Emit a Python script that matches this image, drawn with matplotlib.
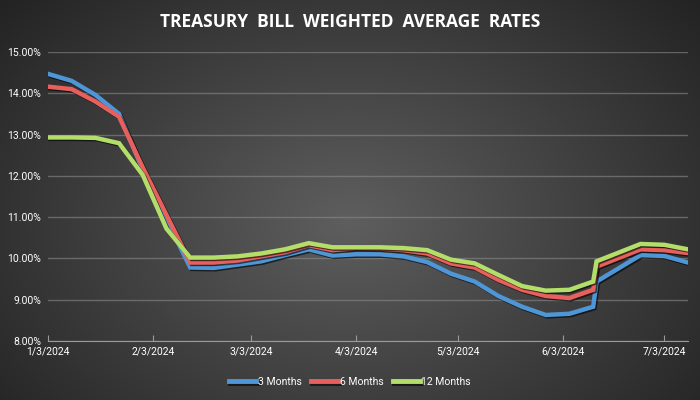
import numpy as np
import matplotlib
matplotlib.use("Agg")
import matplotlib.pyplot as plt
import matplotlib.dates as mdates
import matplotlib.patheffects as pe
from datetime import date, timedelta

# weekly auction dates (plus the extra point on 13 June)
start = date(2024, 1, 3)
week_idx = list(range(24)) + [None] + [25, 26, 27]
dates = []
for w in week_idx:
    if w is None:
        dates.append(date(2024, 6, 13))
    else:
        dates.append(start + timedelta(days=7 * w))

rate_3m = [14.47, 14.30, 13.96, 13.50, 12.15, 10.95, 9.78, 9.77, 9.85, 9.93,
           10.08, 10.22, 10.07, 10.10, 10.10, 10.05, 9.91, 9.63, 9.44, 9.09,
           8.83, 8.63, 8.66, 8.83, 9.44, 10.08, 10.06, 9.90]
rate_6m = [14.16, 14.10, 13.80, 13.43, 12.20, 11.05, 9.90, 9.90, 9.95, 10.05,
           10.15, 10.32, 10.20, 10.25, 10.24, 10.20, 10.12, 9.88, 9.78, 9.48,
           9.24, 9.09, 9.04, 9.24, 9.80, 10.22, 10.20, 10.13]
rate_12m = [12.93, 12.93, 12.92, 12.79, 12.02, 10.72, 10.02, 10.02, 10.05, 10.12,
            10.22, 10.37, 10.27, 10.27, 10.27, 10.25, 10.20, 9.97, 9.88, 9.60,
            9.33, 9.22, 9.24, 9.44, 9.93, 10.35, 10.33, 10.22]

series = [("3 Months", rate_3m, "#4e96d6"),
          ("6 Months", rate_6m, "#e8605d"),
          ("12 Months", rate_12m, "#b3de69")]

tick_dates = [date(2024, m, 3) for m in range(1, 8)]

plt.rcParams['font.family'] = ['Roboto', 'DejaVu Sans']

fig = plt.figure(figsize=(7, 4), dpi=100)

# radial gradient background
bg = fig.add_axes([0, 0, 1, 1])
yy, xx = np.mgrid[0:400, 0:700]
r = np.sqrt(((xx - 350) / 420.0) ** 2 + ((yy - 220) / 300.0) ** 2)
shade = np.clip(0.37 - 0.21 * r, 0.14, 0.40)
bg.imshow(np.dstack([shade, shade, shade]), aspect='auto', extent=[0, 1, 0, 1])
bg.axis('off')

ax = fig.add_axes([48 / 700, 1 - 341 / 400, 640 / 700, (341 - 52) / 400])
ax.patch.set_alpha(0)

for name, vals, col in series:
    ax.plot(dates, vals, color=col, lw=3.2, label=name, solid_joinstyle='miter',
            path_effects=[pe.SimpleLineShadow(offset=(1, -1), shadow_color='black', alpha=0.6),
                          pe.Normal()])

ax.set_ylim(8, 15)
ax.set_yticks(np.arange(8, 16, 1))
ax.yaxis.set_major_formatter(plt.FuncFormatter(lambda v, p: f"{v:.2f}%"))
ax.set_xlim(date(2024, 1, 3), date(2024, 7, 10))
ax.set_xticks(tick_dates)
ax.xaxis.set_major_formatter(plt.FuncFormatter(
    lambda v, p: (lambda d: f"{d.month}/{d.day}/{d.year}")(mdates.num2date(v))))

ax.grid(axis='y', color='#8a8a8a', lw=1, alpha=0.6)
ax.set_axisbelow(True)
for s in ['top', 'right', 'left']:
    ax.spines[s].set_visible(False)
ax.spines['bottom'].set_color('#9a9a9a')
ax.tick_params(axis='y', length=0, colors='white', labelsize=7.5, pad=5)
ax.tick_params(axis='x', direction='in', length=4, color='#9a9a9a', colors='white',
               labelsize=7.5, pad=4)

fig.text(0.5, 0.945, "TREASURY  BILL  WEIGHTED  AVERAGE  RATES", color='white',
         ha='center', va='center', fontsize=12.5, fontweight='bold',
         family=['Open Sans', 'DejaVu Sans'])

leg = fig.legend(loc='center', bbox_to_anchor=(0.5, 0.045), ncol=3, frameon=False,
                 fontsize=7.5, handlelength=2.6, handletextpad=0.15, columnspacing=0.9)
for t in leg.get_texts():
    t.set_color('white')
for h in leg.get_lines():
    h.set_linewidth(3.5)

fig.savefig("out.png", dpi=100)
